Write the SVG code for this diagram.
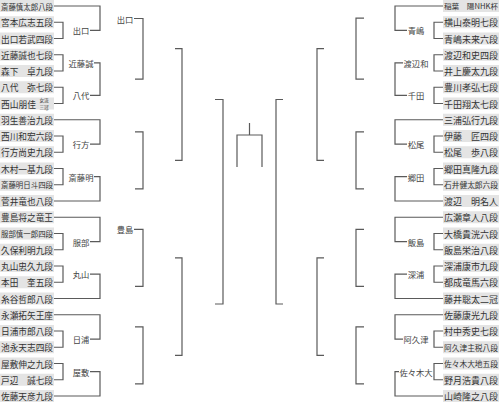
<svg xmlns="http://www.w3.org/2000/svg" width="499" height="402" viewBox="0 0 499 402">
<style>
.bx{fill:#e4e4e4}
.nm{font-family:"Noto Sans CJK JP",sans-serif;font-size:9.1px;fill:#333;dominant-baseline:central}
.n7{font-size:7.8px}
.sm{font-family:"Noto Sans CJK JP",sans-serif;font-size:4.6px;fill:#333;dominant-baseline:central}
.lb{font-family:"Noto Sans CJK JP",sans-serif;font-size:8.3px;fill:#444;dominant-baseline:central;text-anchor:middle}
.cn{fill:none;stroke:#5a5a5a;stroke-width:1.2}
</style>
<rect width="499" height="402" fill="#fff"/>
<g id="connectors" class="cn">
<path d="M54 6H100V30.38H90M54 22.25H63V38.5H54M54 54.75H63V71H54M54 87.25H63V103.5H54M94 62.88H100V95.38H90"/>
<path d="M54 119.75H100V144.13H90M54 136H63V152.25H54M54 168.5H63V184.75H54M94 176.63H100V201H54"/>
<path d="M54 217.25H100V241.63H90M54 233.5H63V249.75H54M54 266H63V282.25H54M90 274.13H100V298.5H54"/>
<path d="M54 314.75H100V339.13H90M54 331H63V347.25H54M54 363.5H63V379.75H54M90 371.63H100V396H54"/>
<path d="M134 18.5H143V79.13H135M135 131.94H143V188.81H135M134 229.44H143V286.31H135M135 326.94H143V383.81H135"/>
<path d="M175 48.66H182V160.38H175M175 257.88H182V355.38H175M215 99.5H223V304H215"/>
<path d="M237 167V135H262V167M249.5 135V123"/>
<path d="M443 6H395V30.38H407M443 22.25H434V38.5H443M443 54.75H434V71H443M443 87.25H434V103.5H443M403 62.88H395V95.38H407"/>
<path d="M443 119.75H395V144.13H407M443 136H434V152.25H443M443 168.5H434V184.75H443M407 176.63H395V201H443"/>
<path d="M443 217.25H395V241.63H407M443 233.5H434V249.75H443M443 266H434V282.25H443M407 274.13H395V298.5H443"/>
<path d="M443 314.75H395V339.13H403M443 331H434V347.25H443M443 363.5H434V379.75H443M399 371.63H395V396H443"/>
<path d="M364 18.19H356V79.13H364M364 131.94H356V188.81H364M364 229.44H356V286.31H364M364 326.94H356V383.81H364"/>
<path d="M324 48.66H317V160.38H324M324 257.88H317V355.38H324M283 99.5H276V304H283"/>
</g>
<g id="L01"><rect class="bx" x="0" y="0" width="54" height="12"/><text class="nm n7" x="1" y="6" textLength="52" lengthAdjust="spacingAndGlyphs">斎藤慎太郎八段</text></g>
<g id="L02"><rect class="bx" x="0" y="16.25" width="54" height="12"/><text class="nm" x="1" y="22.25" textLength="52" lengthAdjust="spacingAndGlyphs">宮本広志五段</text></g>
<g id="L03"><rect class="bx" x="0" y="32.5" width="54" height="12"/><text class="nm" x="1" y="38.5" textLength="52" lengthAdjust="spacingAndGlyphs">出口若武四段</text></g>
<g id="L04"><rect class="bx" x="0" y="48.75" width="54" height="12"/><text class="nm" x="1" y="54.75" textLength="52" lengthAdjust="spacingAndGlyphs">近藤誠也七段</text></g>
<g id="L05"><rect class="bx" x="0" y="65" width="54" height="12"/><text class="nm" x="1" y="71" textLength="52" lengthAdjust="spacingAndGlyphs">森下　卓九段</text></g>
<g id="L06"><rect class="bx" x="0" y="81.25" width="54" height="12"/><text class="nm" x="1" y="87.25" textLength="52" lengthAdjust="spacingAndGlyphs">八代　弥七段</text></g>
<g id="L07"><rect class="bx" x="0" y="97.5" width="54" height="12"/><text class="nm" x="1" y="103.5" textLength="35" lengthAdjust="spacingAndGlyphs">西山朋佳</text><text class="sm"><tspan x="39.5" y="100.4">女流</tspan><tspan x="39.5" y="106.8">三冠</tspan></text></g>
<g id="L08"><rect class="bx" x="0" y="113.75" width="54" height="12"/><text class="nm" x="1" y="119.75" textLength="52" lengthAdjust="spacingAndGlyphs">羽生善治九段</text></g>
<g id="L09"><rect class="bx" x="0" y="130" width="54" height="12"/><text class="nm" x="1" y="136" textLength="52" lengthAdjust="spacingAndGlyphs">西川和宏六段</text></g>
<g id="L10"><rect class="bx" x="0" y="146.25" width="54" height="12"/><text class="nm" x="1" y="152.25" textLength="52" lengthAdjust="spacingAndGlyphs">行方尚史九段</text></g>
<g id="L11"><rect class="bx" x="0" y="162.5" width="54" height="12"/><text class="nm" x="1" y="168.5" textLength="52" lengthAdjust="spacingAndGlyphs">木村一基九段</text></g>
<g id="L12"><rect class="bx" x="0" y="178.75" width="54" height="12"/><text class="nm n7" x="1" y="184.75" textLength="52" lengthAdjust="spacingAndGlyphs">斎藤明日斗四段</text></g>
<g id="L13"><rect class="bx" x="0" y="195" width="54" height="12"/><text class="nm" x="1" y="201" textLength="52" lengthAdjust="spacingAndGlyphs">菅井竜也八段</text></g>
<g id="L14"><rect class="bx" x="0" y="211.25" width="54" height="12"/><text class="nm" x="1" y="217.25" textLength="52" lengthAdjust="spacingAndGlyphs">豊島将之竜王</text></g>
<g id="L15"><rect class="bx" x="0" y="227.5" width="54" height="12"/><text class="nm n7" x="1" y="233.5" textLength="52" lengthAdjust="spacingAndGlyphs">服部慎一郎四段</text></g>
<g id="L16"><rect class="bx" x="0" y="243.75" width="54" height="12"/><text class="nm" x="1" y="249.75" textLength="52" lengthAdjust="spacingAndGlyphs">久保利明九段</text></g>
<g id="L17"><rect class="bx" x="0" y="260" width="54" height="12"/><text class="nm" x="1" y="266" textLength="52" lengthAdjust="spacingAndGlyphs">丸山忠久九段</text></g>
<g id="L18"><rect class="bx" x="0" y="276.25" width="54" height="12"/><text class="nm" x="1" y="282.25" textLength="52" lengthAdjust="spacingAndGlyphs">本田　奎五段</text></g>
<g id="L19"><rect class="bx" x="0" y="292.5" width="54" height="12"/><text class="nm" x="1" y="298.5" textLength="52" lengthAdjust="spacingAndGlyphs">糸谷哲郎八段</text></g>
<g id="L20"><rect class="bx" x="0" y="308.75" width="54" height="12"/><text class="nm" x="1" y="314.75" textLength="52" lengthAdjust="spacingAndGlyphs">永瀬拓矢王座</text></g>
<g id="L21"><rect class="bx" x="0" y="325" width="54" height="12"/><text class="nm" x="1" y="331" textLength="52" lengthAdjust="spacingAndGlyphs">日浦市郎八段</text></g>
<g id="L22"><rect class="bx" x="0" y="341.25" width="54" height="12"/><text class="nm" x="1" y="347.25" textLength="52" lengthAdjust="spacingAndGlyphs">池永天志四段</text></g>
<g id="L23"><rect class="bx" x="0" y="357.5" width="54" height="12"/><text class="nm" x="1" y="363.5" textLength="52" lengthAdjust="spacingAndGlyphs">屋敷伸之九段</text></g>
<g id="L24"><rect class="bx" x="0" y="373.75" width="54" height="12"/><text class="nm" x="1" y="379.75" textLength="52" lengthAdjust="spacingAndGlyphs">戸辺　誠七段</text></g>
<g id="L25"><rect class="bx" x="0" y="390" width="54" height="12"/><text class="nm" x="1" y="396" textLength="52" lengthAdjust="spacingAndGlyphs">佐藤天彦九段</text></g>
<g id="R01"><rect class="bx" x="443" y="0" width="56" height="12"/><text class="nm" x="444" y="6" textLength="54" lengthAdjust="spacingAndGlyphs" style="font-size:6.9px">稲葉　陽NHK杯</text></g>
<g id="R02"><rect class="bx" x="443" y="16.25" width="56" height="12"/><text class="nm" x="444" y="22.25" textLength="54" lengthAdjust="spacingAndGlyphs">横山泰明七段</text></g>
<g id="R03"><rect class="bx" x="443" y="32.5" width="56" height="12"/><text class="nm" x="444" y="38.5" textLength="54" lengthAdjust="spacingAndGlyphs">青嶋未来六段</text></g>
<g id="R04"><rect class="bx" x="443" y="48.75" width="56" height="12"/><text class="nm" x="444" y="54.75" textLength="54" lengthAdjust="spacingAndGlyphs">渡辺和史四段</text></g>
<g id="R05"><rect class="bx" x="443" y="65" width="56" height="12"/><text class="nm" x="444" y="71" textLength="54" lengthAdjust="spacingAndGlyphs">井上慶太九段</text></g>
<g id="R06"><rect class="bx" x="443" y="81.25" width="56" height="12"/><text class="nm" x="444" y="87.25" textLength="54" lengthAdjust="spacingAndGlyphs">豊川孝弘七段</text></g>
<g id="R07"><rect class="bx" x="443" y="97.5" width="56" height="12"/><text class="nm" x="444" y="103.5" textLength="54" lengthAdjust="spacingAndGlyphs">千田翔太七段</text></g>
<g id="R08"><rect class="bx" x="443" y="113.75" width="56" height="12"/><text class="nm" x="444" y="119.75" textLength="54" lengthAdjust="spacingAndGlyphs">三浦弘行九段</text></g>
<g id="R09"><rect class="bx" x="443" y="130" width="56" height="12"/><text class="nm" x="444" y="136" textLength="54" lengthAdjust="spacingAndGlyphs">伊藤　匠四段</text></g>
<g id="R10"><rect class="bx" x="443" y="146.25" width="56" height="12"/><text class="nm" x="444" y="152.25" textLength="54" lengthAdjust="spacingAndGlyphs">松尾　歩八段</text></g>
<g id="R11"><rect class="bx" x="443" y="162.5" width="56" height="12"/><text class="nm" x="444" y="168.5" textLength="54" lengthAdjust="spacingAndGlyphs">郷田真隆九段</text></g>
<g id="R12"><rect class="bx" x="443" y="178.75" width="56" height="12"/><text class="nm n7" x="444" y="184.75" textLength="54" lengthAdjust="spacingAndGlyphs">石井健太郎六段</text></g>
<g id="R13"><rect class="bx" x="443" y="195" width="56" height="12"/><text class="nm" x="444" y="201" textLength="54" lengthAdjust="spacingAndGlyphs">渡辺　明名人</text></g>
<g id="R14"><rect class="bx" x="443" y="211.25" width="56" height="12"/><text class="nm" x="444" y="217.25" textLength="54" lengthAdjust="spacingAndGlyphs">広瀬章人八段</text></g>
<g id="R15"><rect class="bx" x="443" y="227.5" width="56" height="12"/><text class="nm" x="444" y="233.5" textLength="54" lengthAdjust="spacingAndGlyphs">大橋貴洸六段</text></g>
<g id="R16"><rect class="bx" x="443" y="243.75" width="56" height="12"/><text class="nm" x="444" y="249.75" textLength="54" lengthAdjust="spacingAndGlyphs">飯島栄治八段</text></g>
<g id="R17"><rect class="bx" x="443" y="260" width="56" height="12"/><text class="nm" x="444" y="266" textLength="54" lengthAdjust="spacingAndGlyphs">深浦康市九段</text></g>
<g id="R18"><rect class="bx" x="443" y="276.25" width="56" height="12"/><text class="nm" x="444" y="282.25" textLength="54" lengthAdjust="spacingAndGlyphs">都成竜馬六段</text></g>
<g id="R19"><rect class="bx" x="443" y="292.5" width="56" height="12"/><text class="nm" x="444" y="298.5" textLength="54" lengthAdjust="spacingAndGlyphs">藤井聡太二冠</text></g>
<g id="R20"><rect class="bx" x="443" y="308.75" width="56" height="12"/><text class="nm" x="444" y="314.75" textLength="54" lengthAdjust="spacingAndGlyphs">佐藤康光九段</text></g>
<g id="R21"><rect class="bx" x="443" y="325" width="56" height="12"/><text class="nm" x="444" y="331" textLength="54" lengthAdjust="spacingAndGlyphs">村中秀史七段</text></g>
<g id="R22"><rect class="bx" x="443" y="341.25" width="56" height="12"/><text class="nm n7" x="444" y="347.25" textLength="54" lengthAdjust="spacingAndGlyphs">阿久津主税八段</text></g>
<g id="R23"><rect class="bx" x="443" y="357.5" width="56" height="12"/><text class="nm n7" x="444" y="363.5" textLength="54" lengthAdjust="spacingAndGlyphs">佐々木大地五段</text></g>
<g id="R24"><rect class="bx" x="443" y="373.75" width="56" height="12"/><text class="nm" x="444" y="379.75" textLength="54" lengthAdjust="spacingAndGlyphs">野月浩貴八段</text></g>
<g id="R25"><rect class="bx" x="443" y="390" width="56" height="12"/><text class="nm" x="444" y="396" textLength="54" lengthAdjust="spacingAndGlyphs">山崎隆之八段</text></g>
<g id="W-L1"><text class="lb" x="81" y="30.38">出口</text></g>
<g id="W-L2"><text class="lb" x="81" y="62.88">近藤誠</text></g>
<g id="W-L3"><text class="lb" x="81" y="95.38">八代</text></g>
<g id="W-L4"><text class="lb" x="81" y="144.13">行方</text></g>
<g id="W-L5"><text class="lb" x="81" y="176.63">斎藤明</text></g>
<g id="W-L6"><text class="lb" x="81" y="241.63">服部</text></g>
<g id="W-L7"><text class="lb" x="81" y="274.13">丸山</text></g>
<g id="W-L8"><text class="lb" x="81" y="339.13">日浦</text></g>
<g id="W-L9"><text class="lb" x="81" y="371.63">屋敷</text></g>
<g id="W2-L1"><text class="lb" x="125" y="18.5">出口</text></g>
<g id="W2-L2"><text class="lb" x="125" y="229.44">豊島</text></g>
<g id="W-R1"><text class="lb" x="416" y="30.38">青嶋</text></g>
<g id="W-R2"><text class="lb" x="416" y="62.88">渡辺和</text></g>
<g id="W-R3"><text class="lb" x="416" y="95.38">千田</text></g>
<g id="W-R4"><text class="lb" x="416" y="144.13">松尾</text></g>
<g id="W-R5"><text class="lb" x="416" y="176.63">郷田</text></g>
<g id="W-R6"><text class="lb" x="416" y="241.63">飯島</text></g>
<g id="W-R7"><text class="lb" x="416" y="274.13">深浦</text></g>
<g id="W-R8"><text class="lb" x="416" y="339.13">阿久津</text></g>
<g id="W-R9"><text class="lb" x="416" y="371.63">佐々木大</text></g>
</svg>
